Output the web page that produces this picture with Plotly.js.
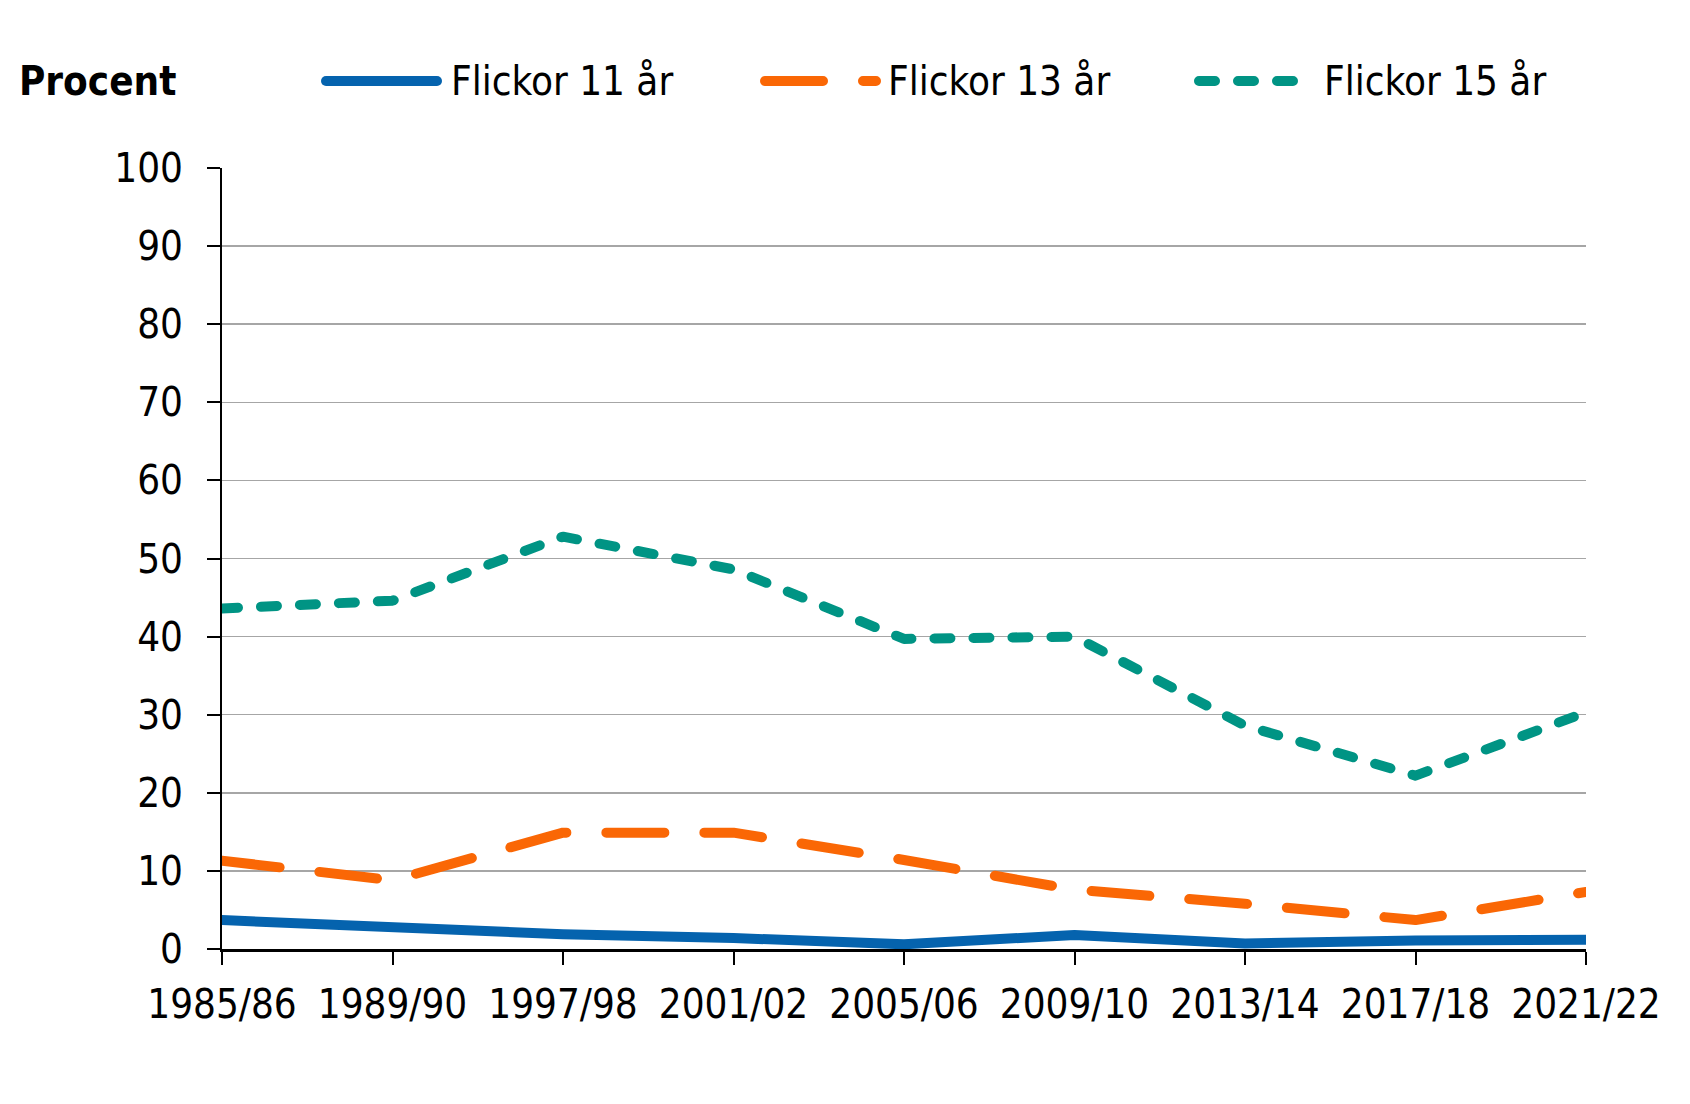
<!DOCTYPE html>
<html>
<head>
<meta charset="utf-8">
<script src="https://cdn.plot.ly/plotly-3.0.1.min.js"></script>
<style>html,body{margin:0;padding:0;background:#fff;}#chart{width:1690px;height:1104px;}</style>
</head>
<body>
<div id="chart"></div>
<script>
const categories = ["1985/86","1989/90","1997/98","2001/02","2005/06","2009/10","2013/14","2017/18","2021/22"];
const flickor11 = [3.7, 2.8, 1.9, 1.4, 0.6, 1.8, 0.7, 1.1, 1.2];
const flickor13 = [11.3, 8.8, 14.9, 14.9, 11.4, 7.6, 5.8, 3.7, 7.3];
const flickor15 = [43.6, 44.6, 52.8, 48.6, 39.7, 40.0, 28.6, 22.2, 30.3];
const seriesNames = ["Flickor 11 år", "Flickor 13 år", "Flickor 15 år"];
const yTicks = [0,10,20,30,40,50,60,70,80,90,100];

const colors = ["#0563AE", "#FA6705", "#009484"];
const dashes = ["solid", "58px,40px", "16px,23px"];
const FONT = "'DejaVu Sans Condensed', 'DejaVu Sans', sans-serif";

const W = 1690, H = 1104;
const M = {l: 222, r: 104, t: 168, b: 155};
const pw = W - M.l - M.r, ph = H - M.t - M.b;
const px2x = p => (p - M.l) / pw;
const px2y = p => 1 - (p - M.t) / ph;

const series = [flickor11, flickor13, flickor15];
const traces = series.map((vals, i) => ({
  type: "scatter", mode: "lines", x: categories, y: vals, name: seriesNames[i],
  line: {color: colors[i], width: 10, dash: dashes[i]},
  cliponaxis: false, showlegend: false, hoverinfo: "skip"
}));

// custom legend (long sample lines as in reference)
const legendY = 81;
const legendLineX = [[326, 437], [765, 876], [1199, 1300]];
const legendTextX = [449, 886, 1322];
const shapes = legendLineX.map((lx, i) => ({
  type: "line", xref: "paper", yref: "paper",
  x0: px2x(lx[0]), x1: px2x(lx[1]), y0: px2y(legendY), y1: px2y(legendY),
  line: {color: colors[i], width: 10, dash: dashes[i]}
}));
const annotations = seriesNames.map((n, i) => ({
  xref: "paper", yref: "paper", x: px2x(legendTextX[i]), y: px2y(legendY),
  xanchor: "left", yanchor: "middle", text: n, showarrow: false,
  font: {family: FONT, size: 40, color: "#000"}
}));
annotations.push({
  xref: "paper", yref: "paper", x: px2x(17), y: px2y(legendY),
  xanchor: "left", yanchor: "middle", text: "<b>Procent</b>", showarrow: false,
  font: {family: FONT, size: 40, color: "#000"}
});

const layout = {
  width: W, height: H, margin: M,
  paper_bgcolor: "#fff", plot_bgcolor: "#fff",
  font: {family: FONT, size: 40, color: "#000"},
  showlegend: false,
  xaxis: {
    type: "category", range: [0, categories.length - 1],
    showgrid: false, showline: true, linecolor: "#000", linewidth: 3,
    ticks: "outside", ticklen: 13, tickwidth: 2, tickcolor: "#000", ticklabelstandoff: 5,
    tickfont: {family: FONT, size: 40, color: "#000"}, zeroline: false, fixedrange: true
  },
  yaxis: {
    range: [0, 100], tickvals: yTicks, ticktext: yTicks.map(String),
    showgrid: true, gridcolor: "#A6A6A6", gridwidth: 1.5,
    showline: true, linecolor: "#000", linewidth: 2,
    ticks: "outside", ticklen: 13, tickwidth: 2, tickcolor: "#000", ticklabelstandoff: 16,
    tickfont: {family: FONT, size: 40, color: "#000"}, zeroline: false, fixedrange: true
  },
  shapes: shapes, annotations: annotations
};

Plotly.newPlot("chart", traces, layout, {staticPlot: true}).then(() => {
  document.querySelectorAll(".scatterlayer path.js-line, .shapelayer path").forEach(p => {
    p.style.strokeLinecap = "round";
    p.style.strokeLinejoin = "round";
  });
});
</script>
</body>
</html>
